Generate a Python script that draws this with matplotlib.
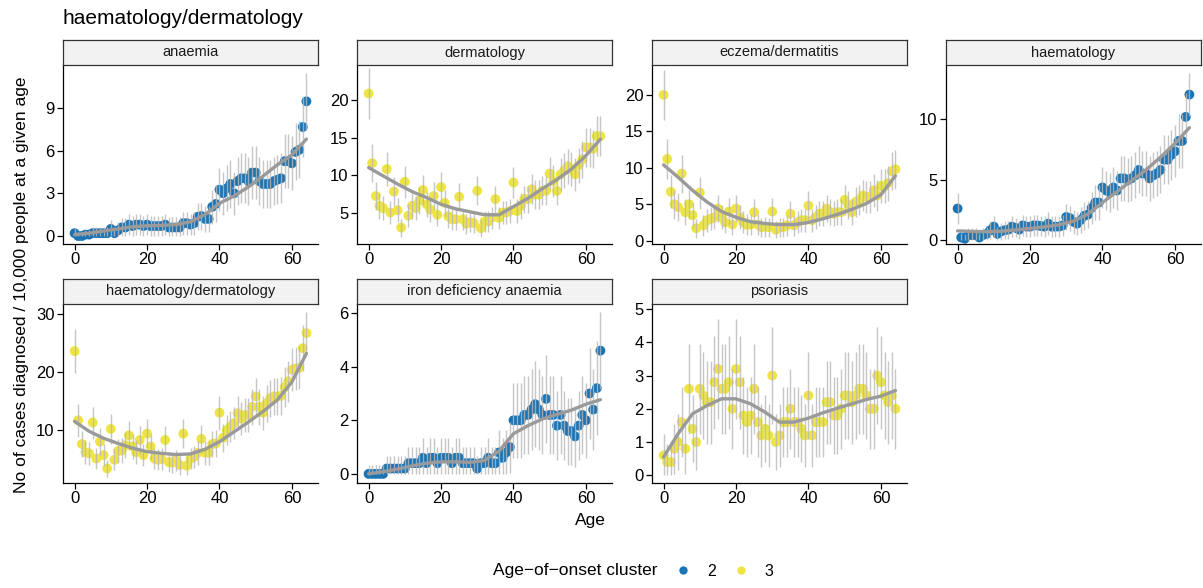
import numpy as np
import matplotlib.pyplot as plt
from matplotlib.lines import Line2D

plt.rcParams['font.family'] = ['Liberation Sans', 'DejaVu Sans']

# ages 0..64, one point per age
ages = np.arange(65)
smooth_ages = np.arange(0, 65, 4)

anaemia_rate = [0.2, 0.0, 0.0, 0.1, 0.1, 0.2, 0.2, 0.2, 0.2, 0.2,
                0.5, 0.2, 0.4, 0.6, 0.6, 0.8, 0.7, 0.8, 0.8, 0.7,
                0.8, 0.7, 0.7, 0.7, 0.7, 0.8, 0.6, 0.6, 0.6, 0.6,
                0.9, 0.9, 0.8, 0.9, 1.35, 1.4, 1.2, 1.2, 2.05, 2.25,
                3.25, 3.0, 3.35, 3.65, 3.0, 3.85, 4.05, 4.05, 3.85, 4.45,
                4.45, 3.85, 3.65, 3.65, 3.65, 3.85, 3.95, 4.05, 5.25, 5.25,
                5.1, 5.9, 6.05, 7.65, 9.45]
anaemia_err = [0.35, 0.3, 0.3, 0.3, 0.3, 0.4, 0.4, 0.4, 0.4, 0.4,
               0.6, 0.4, 0.55, 0.65, 0.65, 0.75, 0.7, 0.75, 0.75, 0.7,
               0.75, 0.7, 0.7, 0.7, 0.7, 0.75, 0.7, 0.7, 0.7, 0.7,
               0.8, 0.8, 0.75, 0.8, 0.95, 0.95, 0.9, 0.9, 1.2, 1.3,
               1.5, 1.5, 1.6, 1.65, 1.5, 1.7, 1.75, 1.75, 1.7, 1.85,
               1.85, 1.7, 1.65, 1.65, 1.65, 1.7, 1.7, 1.75, 1.9, 1.9,
               1.9, 2.0, 2.0, 2.1, 2.0]
anaemia_smooth = [0.1, 0.2, 0.35, 0.5, 0.65, 0.72, 0.75, 0.8, 1.0,
                  1.5, 2.3, 2.8, 3.45, 4.2, 5.0, 5.7, 6.8]

derm_rate = [20.9, 11.6, 7.2, 5.9, 5.6, 10.8, 5.0, 7.8, 5.3, 3.0,
             9.1, 4.6, 5.9, 5.6, 6.6, 8.0, 6.1, 5.4, 7.2, 4.7,
             8.4, 6.3, 4.5, 4.1, 4.1, 7.1, 4.1, 3.5, 3.7, 3.6,
             7.9, 2.9, 3.8, 3.8, 4.3, 6.8, 4.3, 5.0, 5.0, 5.2,
             9.0, 5.2, 5.9, 6.8, 6.8, 8.1, 7.4, 7.4, 7.9, 7.9,
             10.2, 9.2, 7.9, 10.1, 10.6, 11.2, 10.8, 10.1, 11.3, 12.1,
             13.7, 13.7, 13.5, 15.2, 15.2]
derm_err = [3.4, 2.5, 1.9, 1.7, 1.65, 2.3, 1.55, 1.95, 1.6, 1.2,
            2.1, 1.5, 1.7, 1.65, 1.8, 2.0, 1.7, 1.6, 1.9, 1.5,
            2.0, 1.75, 1.5, 1.4, 1.4, 1.85, 1.4, 1.3, 1.35, 1.35,
            1.95, 1.2, 1.35, 1.35, 1.45, 1.8, 1.45, 1.55, 1.55, 1.6,
            2.1, 1.6, 1.7, 1.8, 1.8, 2.0, 1.9, 1.9, 1.95, 1.95,
            2.25, 2.1, 1.95, 2.2, 2.3, 2.35, 2.3, 2.2, 2.35, 2.45,
            2.6, 2.6, 2.55, 2.7, 2.7]
derm_smooth = [11.0, 9.9, 8.8, 7.8, 7.0, 6.1, 5.5, 5.1, 4.7,
               4.7, 5.8, 6.9, 8.2, 9.4, 10.8, 12.6, 14.8]

eczema_rate = [20.0, 11.2, 6.7, 5.0, 4.6, 9.2, 3.9, 5.0, 3.5, 1.7,
               6.6, 2.1, 2.8, 3.0, 3.2, 4.4, 3.2, 2.5, 4.0, 2.2,
               4.4, 3.2, 2.5, 2.2, 2.2, 3.9, 2.2, 1.85, 1.9, 1.85,
               4.0, 1.5, 1.85, 1.85, 2.1, 3.7, 2.1, 2.5, 2.8, 2.8,
               4.8, 2.8, 3.2, 3.7, 3.7, 4.4, 3.9, 3.7, 3.9, 3.9,
               5.6, 4.9, 3.9, 5.3, 5.6, 6.2, 6.0, 6.0, 6.9, 6.2,
               7.5, 7.5, 7.9, 9.5, 9.8]
eczema_err = [3.45, 2.8, 2.25, 2.0, 1.9, 2.6, 1.8, 2.0, 1.7, 1.3,
              2.2, 1.4, 1.55, 1.6, 1.65, 1.9, 1.65, 1.5, 1.8, 1.4,
              1.9, 1.65, 1.5, 1.4, 1.4, 1.8, 1.4, 1.3, 1.35, 1.3,
              1.8, 1.2, 1.3, 1.3, 1.4, 1.75, 1.4, 1.5, 1.55, 1.55,
              1.95, 1.55, 1.65, 1.75, 1.75, 1.9, 1.8, 1.75, 1.8, 1.8,
              2.1, 1.95, 1.8, 2.05, 2.1, 2.15, 2.15, 2.15, 2.25, 2.15,
              2.35, 2.35, 2.4, 2.6, 2.65]
eczema_smooth = [10.4, 8.7, 6.9, 5.3, 4.0, 3.2, 2.6, 2.35, 2.2,
                 2.2, 2.5, 3.0, 3.6, 4.3, 5.1, 6.3, 8.9]

haem_rate = [2.6, 0.2, 0.1, 0.4, 0.4, 0.4, 0.2, 0.4, 0.5, 0.8,
             1.1, 0.5, 0.7, 0.8, 0.85, 1.1, 1.0, 0.85, 1.2, 1.1,
             1.1, 1.2, 1.2, 1.15, 1.1, 1.35, 1.1, 1.1, 1.1, 1.2,
             1.9, 1.8, 1.5, 1.35, 1.65, 2.0, 2.1, 2.65, 3.1, 3.1,
             4.35, 4.1, 3.95, 4.35, 4.1, 5.1, 5.1, 4.95, 5.1, 5.35,
             5.8, 5.5, 5.5, 5.1, 5.35, 5.5, 5.8, 6.65, 6.65, 7.05,
             7.35, 8.2, 8.2, 10.2, 12.05]
haem_err = [1.3, 0.4, 0.35, 0.55, 0.55, 0.55, 0.4, 0.55, 0.6, 0.75,
            0.85, 0.6, 0.7, 0.75, 0.75, 0.85, 0.8, 0.75, 0.9, 0.85,
            0.85, 0.9, 0.9, 0.85, 0.85, 0.95, 0.85, 0.85, 0.85, 0.9,
            1.1, 1.05, 1.0, 0.95, 1.05, 1.15, 1.15, 1.3, 1.45, 1.45,
            1.7, 1.65, 1.6, 1.7, 1.65, 1.85, 1.85, 1.8, 1.85, 1.9,
            1.95, 1.9, 1.9, 1.85, 1.9, 1.9, 1.95, 2.05, 2.05, 2.1,
            2.15, 2.2, 2.2, 2.0, 1.75]
haem_smooth = [0.75, 0.7, 0.68, 0.72, 0.82, 0.95, 1.08, 1.25, 1.55,
               2.15, 3.1, 4.0, 4.9, 5.8, 6.85, 8.0, 9.3]

hd_rate = [23.6, 11.7, 7.6, 6.2, 6.0, 11.3, 5.1, 8.0, 5.7, 3.4,
           10.2, 4.9, 6.4, 6.5, 7.4, 9.1, 7.2, 6.2, 8.3, 5.7,
           9.4, 7.2, 5.1, 4.9, 5.0, 8.3, 4.5, 4.4, 4.8, 4.0,
           9.4, 3.9, 5.1, 5.4, 6.1, 8.5, 6.1, 6.1, 7.6, 7.7,
           13.0, 8.7, 10.0, 10.6, 11.2, 12.9, 12.0, 12.6, 12.6, 14.0,
           15.8, 14.0, 13.0, 14.6, 15.5, 15.8, 15.8, 15.9, 17.4, 18.4,
           20.4, 20.6, 20.7, 24.1, 26.7]
hd_err = [3.8, 2.8, 2.25, 2.05, 2.0, 2.75, 1.85, 2.3, 1.95, 1.5,
          2.6, 1.8, 2.1, 2.1, 2.25, 2.5, 2.2, 2.05, 2.35, 1.95,
          2.5, 2.2, 1.85, 1.8, 1.85, 2.35, 1.75, 1.7, 1.8, 1.65,
          2.5, 1.6, 1.85, 1.9, 2.05, 2.4, 2.05, 2.05, 2.25, 2.3,
          2.95, 2.4, 2.6, 2.65, 2.75, 2.95, 2.85, 2.9, 2.9, 3.05,
          3.25, 3.05, 2.95, 3.15, 3.2, 3.25, 3.25, 3.25, 3.4, 3.5,
          3.7, 3.7, 3.7, 4.0, 3.6]
hd_smooth = [11.5, 9.8, 8.6, 7.7, 6.9, 6.3, 6.0, 5.8, 5.9,
             6.7, 8.0, 9.7, 11.4, 13.2, 15.2, 18.3, 23.2]

iron_rate = [0.0, 0.0, 0.0, 0.0, 0.0, 0.2, 0.2, 0.2, 0.2, 0.2,
             0.2, 0.4, 0.4, 0.4, 0.4, 0.6, 0.4, 0.6, 0.6, 0.4,
             0.6, 0.6, 0.6, 0.4, 0.6, 0.6, 0.4, 0.4, 0.4, 0.4,
             0.2, 0.4, 0.4, 0.6, 0.4, 0.4, 0.8, 0.6, 0.8, 1.0,
             2.0, 2.0, 2.0, 2.2, 2.2, 2.4, 2.6, 2.4, 2.2, 2.8,
             2.2, 2.2, 1.8, 2.2, 1.8, 1.6, 1.6, 1.4, 1.8, 2.2,
             2.0, 3.0, 2.4, 3.2, 4.6]
iron_err = [0.35, 0.35, 0.35, 0.35, 0.35, 0.45, 0.45, 0.45, 0.45, 0.45,
            0.45, 0.6, 0.6, 0.6, 0.6, 0.75, 0.6, 0.75, 0.75, 0.6,
            0.75, 0.75, 0.75, 0.6, 0.75, 0.75, 0.6, 0.6, 0.6, 0.6,
            0.45, 0.6, 0.6, 0.75, 0.6, 0.6, 0.85, 0.75, 0.85, 0.95,
            1.4, 1.4, 1.4, 1.45, 1.45, 1.5, 1.6, 1.5, 1.45, 1.65,
            1.45, 1.45, 1.3, 1.45, 1.3, 1.25, 1.25, 1.15, 1.3, 1.45,
            1.4, 1.7, 1.5, 1.75, 1.45]
iron_smooth = [0.0, 0.08, 0.18, 0.3, 0.4, 0.45, 0.45, 0.43, 0.5,
               0.85, 1.5, 1.8, 2.05, 2.22, 2.38, 2.6, 2.77]

psor_rate = [0.6, 0.4, 0.4, 0.8, 1.0, 1.6, 0.8, 2.6, 1.4, 1.0,
             2.6, 2.4, 2.2, 2.2, 2.8, 3.2, 2.6, 2.6, 2.8, 2.0,
             3.2, 2.8, 1.8, 1.6, 1.8, 2.6, 1.6, 1.2, 1.4, 1.2,
             3.0, 1.0, 1.2, 1.6, 1.6, 2.0, 1.6, 1.6, 1.4, 1.2,
             2.4, 1.2, 1.6, 1.6, 1.6, 2.2, 2.2, 1.8, 1.8, 2.0,
             2.4, 2.4, 2.2, 2.4, 2.6, 2.6, 2.4, 2.0, 2.0, 3.0,
             2.8, 2.4, 2.2, 2.4, 2.0]
psor_err = [0.65, 0.55, 0.55, 0.75, 0.85, 1.05, 0.75, 1.35, 1.0, 0.85,
            1.35, 1.3, 1.25, 1.25, 1.4, 1.5, 1.35, 1.35, 1.4, 1.2,
            1.5, 1.4, 1.15, 1.05, 1.15, 1.35, 1.05, 0.95, 1.0, 0.95,
            1.45, 0.85, 0.95, 1.05, 1.05, 1.2, 1.05, 1.05, 1.0, 0.95,
            1.3, 0.95, 1.05, 1.05, 1.05, 1.25, 1.25, 1.15, 1.15, 1.2,
            1.3, 1.3, 1.25, 1.3, 1.35, 1.35, 1.3, 1.2, 1.2, 1.45,
            1.4, 1.3, 1.25, 1.3, 1.2]
psor_smooth = [0.55, 1.25, 1.85, 2.1, 2.3, 2.3, 2.15, 1.9, 1.6,
               1.6, 1.72, 1.88, 2.02, 2.15, 2.28, 2.38, 2.55]

panel_names = ["anaemia", "dermatology", "eczema/dermatitis", "haematology",
               "haematology/dermatology", "iron deficiency anaemia", "psoriasis"]
panel_cluster = ["2", "3", "3", "2", "3", "2", "3"]
panel_rates = [anaemia_rate, derm_rate, eczema_rate, haem_rate, hd_rate, iron_rate, psor_rate]
panel_errs = [anaemia_err, derm_err, eczema_err, haem_err, hd_err, iron_err, psor_err]
panel_smooth = [anaemia_smooth, derm_smooth, eczema_smooth, haem_smooth,
                hd_smooth, iron_smooth, psor_smooth]
panel_yticks = [[0, 3, 6, 9], [5, 10, 15, 20], [0, 5, 10, 15, 20], [0, 5, 10],
                [10, 20, 30], [0, 2, 4, 6], [0, 1, 2, 3, 4, 5]]
panel_ylim = [(-0.56, 12.0), (0.8, 24.7), (-0.46, 24.1), (-0.34, 14.5),
              (0.9, 31.7), (-0.34, 6.34), (-0.23, 5.15)]

cluster_colors = {"2": "#1A74B4", "3": "#F0E442"}

W, H = 1203, 588
fig = plt.figure(figsize=(W / 100, H / 100), dpi=100)


def px_rect(left, top, width, height):
    return [left / W, 1 - (top + height) / H, width / W, height / H]


col_left = [63, 357, 652, 946]
row_top = [65, 304]
pw, ph, sh = 255, 179, 25

for i, name in enumerate(panel_names):
    r, c = divmod(i, 4)
    ax = fig.add_axes(px_rect(col_left[c], row_top[r], pw, ph))
    sax = fig.add_axes(px_rect(col_left[c], row_top[r] - sh, pw, sh))

    rate = np.array(panel_rates[i])
    err = np.array(panel_errs[i])
    col = cluster_colors[panel_cluster[i]]

    ax.scatter(ages, rate, s=50, color=col, edgecolors='none', zorder=2)
    ax.vlines(ages, np.clip(rate - err, 0, None), rate + err,
              color='#B8B8B8', lw=1.0, alpha=0.8, zorder=3)
    ax.plot(smooth_ages, panel_smooth[i], color='#9A9A9A', lw=2.4,
            solid_capstyle='round', zorder=4)

    ax.set_xlim(-3.2, 67.2)
    ax.set_ylim(*panel_ylim[i])
    ax.set_xticks([0, 20, 40, 60])
    ax.set_yticks(panel_yticks[i])
    for sp in ['top', 'right']:
        ax.spines[sp].set_visible(False)
    for sp in ['left', 'bottom']:
        ax.spines[sp].set_linewidth(0.9)
    ax.tick_params(direction='out', length=4, width=0.9, labelsize=12, pad=2)

    sax.set_facecolor('#F2F2F2')
    sax.set_xticks([])
    sax.set_yticks([])
    for sp in sax.spines.values():
        sp.set_linewidth(0.9)
        sp.set_color('#333333')
    sax.text(0.5, 0.5, name, ha='center', va='center', fontsize=10.5,
             color='#1A1A1A', transform=sax.transAxes)

fig.text(63 / W, 1 - 18 / H, "haematology/dermatology", fontsize=15,
         ha='left', va='center')
fig.text(22 / W, 1 - 285 / H, "No of cases diagnosed / 10,000 people at a given age",
         rotation=90, fontsize=12.5, ha='center', va='center')
fig.text(590 / W, 1 - 521 / H, "Age", fontsize=12.5, ha='center', va='center')

fig.text(493 / W, 1 - 571 / H, "Age\u2212of\u2212onset cluster", fontsize=12.5,
         ha='left', va='center')
handles = [Line2D([], [], marker='o', ls='', color=cluster_colors[k], markersize=5)
           for k in ["2", "3"]]
fig.legend(handles, ["2", "3"], ncol=2, loc='center left',
           bbox_to_anchor=(661 / W, 1 - 571 / H), frameon=False, fontsize=11.5,
           handletextpad=1.0, columnspacing=1.05, handlelength=1.0)

fig.savefig("out.png", dpi=100)
